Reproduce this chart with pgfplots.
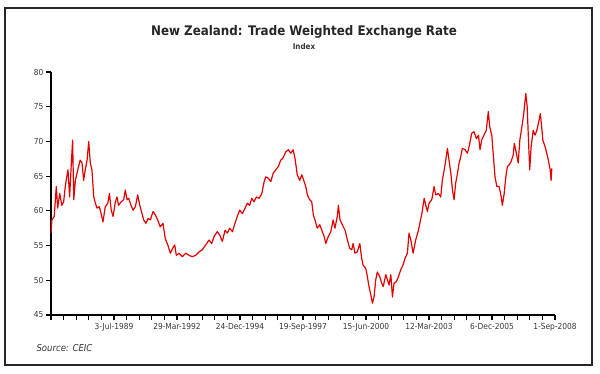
\documentclass[border=0pt]{standalone}
\usepackage{pgfplots}
\pgfplotsset{compat=1.18}
\usepackage{fontspec}
\setmainfont{DejaVu Sans}
\newfontfamily\condfont{DejaVu Sans Condensed}
\definecolor{linered}{RGB}{228,0,0}
\definecolor{txtgray}{RGB}{55,55,55}
\begin{document}
\begin{tikzpicture}[x=1bp,y=1bp]
\path[use as bounding box] (0,0) rectangle (600,373);
\draw[line width=1.5bp, color=black!85] (5,8) rectangle (592,365);
\node[font=\condfont\fontsize{13.2bp}{15bp}\selectfont\bfseries, text=black!85] at (304,341) {New Zealand: Trade Weighted Exchange Rate};
\node[font=\condfont\fontsize{8bp}{9bp}\selectfont\bfseries, text=txtgray] at (304,326) {Index};
\node[font=\condfont\fontsize{9.5bp}{11bp}\selectfont\itshape, text=txtgray, anchor=west] at (33,25) {Source: CEIC};
\begin{axis}[
  at={(51bp,58bp)}, anchor=south west,
  scale only axis, width=504bp, height=243bp,
  xmin=1986.76, xmax=2008.68, ymin=45, ymax=80,
  axis x line*=bottom, axis y line*=left,
  axis line style={line width=1.4bp, black},
  ytick={45,50,...,80},
  xtick={1986.76,1989.50,1992.24,1994.98,1997.72,2000.46,2003.20,2005.94,2008.68},
  xticklabels={,3-Jul-1989,29-Mar-1992,24-Dec-1994,19-Sep-1997,15-Jun-2000,12-Mar-2003,6-Dec-2005,1-Sep-2008},
  minor x tick num=4,
  tick align=outside,
  major tick length=5bp, minor tick length=5bp,
  every tick/.style={black, line width=1.1bp},
  /pgf/number format/assume math mode=true,
  ticklabel style={font=\condfont\fontsize{8.3bp}{9bp}\selectfont, text=txtgray},
  xticklabel style={yshift=0bp},
  yticklabel style={xshift=1bp},
  clip=false,
]
\addplot[color=linered, line width=1.2bp, line join=round] coordinates {
(1986.76,56.8)(1986.80,58.7)(1986.90,59.2)(1986.99,63.5)(1987.05,60.4)(1987.14,62.5)(1987.23,60.8)(1987.31,61.3)
(1987.38,63.5)(1987.46,65.2)(1987.50,65.9)(1987.57,62.0)(1987.63,65.9)(1987.70,70.2)(1987.75,61.6)(1987.82,64.4)
(1987.89,65.4)(1987.96,66.4)(1988.03,67.3)(1988.11,66.9)(1988.18,64.4)(1988.25,65.9)(1988.33,67.3)(1988.40,70.0)
(1988.47,66.9)(1988.54,65.9)(1988.62,62.0)(1988.69,61.1)(1988.76,60.4)(1988.86,60.6)(1988.94,59.6)(1989.02,58.4)
(1989.12,60.6)(1989.23,61.1)(1989.30,62.5)(1989.38,60.1)(1989.46,59.2)(1989.56,61.3)(1989.63,62.0)(1989.70,60.8)
(1989.81,61.3)(1989.92,61.6)(1989.99,63.0)(1990.07,61.6)(1990.14,61.8)(1990.24,60.8)(1990.33,60.1)(1990.43,60.6)
(1990.53,62.3)(1990.62,60.8)(1990.72,59.6)(1990.79,58.7)(1990.89,58.2)(1990.98,58.9)(1991.08,58.7)(1991.20,59.9)
(1991.30,59.4)(1991.40,58.7)(1991.51,57.7)(1991.63,58.2)(1991.73,56.0)(1991.84,55.1)(1991.95,53.9)(1992.05,54.6)
(1992.14,55.1)(1992.21,53.6)(1992.33,53.9)(1992.47,53.4)(1992.62,53.9)(1992.76,53.6)(1992.91,53.4)(1993.05,53.6)
(1993.20,54.1)(1993.34,54.4)(1993.49,55.1)(1993.63,55.8)(1993.75,55.3)(1993.85,56.3)(1993.99,57.0)(1994.10,56.5)
(1994.21,55.6)(1994.33,57.2)(1994.43,56.8)(1994.53,57.5)(1994.65,57.0)(1994.76,58.2)(1994.86,59.2)(1994.97,60.1)
(1995.08,59.6)(1995.20,60.4)(1995.30,61.1)(1995.40,60.8)(1995.49,61.8)(1995.59,61.3)(1995.69,62.0)(1995.81,61.8)
(1995.93,62.5)(1996.03,64.2)(1996.10,64.9)(1996.21,64.7)(1996.32,64.2)(1996.42,65.4)(1996.53,65.9)(1996.65,66.4)
(1996.75,67.3)(1996.85,67.6)(1996.97,68.5)(1997.08,68.8)(1997.19,68.3)(1997.29,68.8)(1997.37,67.6)(1997.47,65.2)
(1997.58,64.4)(1997.67,65.2)(1997.77,64.2)(1997.84,63.5)(1997.91,62.3)(1998.01,61.6)(1998.10,61.3)(1998.17,59.4)
(1998.24,58.7)(1998.34,57.5)(1998.45,58.0)(1998.56,57.0)(1998.64,56.3)(1998.71,55.3)(1998.82,56.3)(1998.93,57.0)
(1999.03,58.7)(1999.11,57.5)(1999.21,59.2)(1999.26,60.8)(1999.33,58.7)(1999.43,58.0)(1999.55,57.2)(1999.65,55.8)
(1999.75,54.6)(1999.84,54.4)(1999.90,55.3)(1999.98,53.9)(2000.08,54.1)(2000.19,55.3)(2000.27,53.2)(2000.33,52.2)
(2000.45,51.7)(2000.52,50.5)(2000.59,49.1)(2000.67,47.9)(2000.74,46.7)(2000.81,47.6)(2000.88,50.0)(2000.95,51.2)
(2001.06,50.5)(2001.14,49.6)(2001.21,49.1)(2001.32,50.8)(2001.40,50.0)(2001.46,49.3)(2001.54,50.8)(2001.61,47.6)
(2001.68,49.6)(2001.78,49.8)(2001.87,50.5)(2001.97,51.5)(2002.07,52.2)(2002.16,53.2)(2002.26,53.9)(2002.33,56.8)
(2002.41,55.8)(2002.51,53.9)(2002.62,55.8)(2002.74,57.2)(2002.89,59.6)(2002.99,61.8)(2003.06,60.8)(2003.13,59.9)
(2003.20,61.1)(2003.32,61.6)(2003.42,63.5)(2003.49,62.3)(2003.61,62.5)(2003.71,62.0)(2003.78,64.4)(2003.86,65.9)
(2003.93,67.3)(2004.00,69.0)(2004.07,67.3)(2004.15,65.4)(2004.22,63.0)(2004.29,61.6)(2004.36,64.0)(2004.44,65.4)
(2004.51,66.9)(2004.58,67.8)(2004.65,69.0)(2004.77,68.8)(2004.87,68.3)(2004.94,69.2)(2005.06,71.2)(2005.16,71.4)
(2005.26,70.4)(2005.35,70.9)(2005.42,68.8)(2005.49,70.2)(2005.59,70.9)(2005.69,71.6)(2005.78,74.3)(2005.84,72.1)
(2005.93,70.9)(2005.99,68.3)(2006.07,64.9)(2006.15,63.5)(2006.25,63.5)(2006.34,62.0)(2006.39,60.8)(2006.47,62.5)
(2006.54,64.9)(2006.61,66.4)(2006.68,66.6)(2006.77,67.1)(2006.86,68.0)(2006.91,69.7)(2007.00,68.3)(2007.08,66.9)
(2007.15,70.2)(2007.24,72.1)(2007.32,74.0)(2007.41,76.9)(2007.47,75.0)(2007.52,70.7)(2007.58,65.9)(2007.64,69.2)
(2007.73,71.6)(2007.81,70.9)(2007.89,71.6)(2007.99,73.1)(2008.04,74.0)(2008.10,72.1)(2008.15,70.2)(2008.25,69.2)
(2008.32,68.3)(2008.39,67.3)(2008.47,65.9)(2008.51,64.4)(2008.54,66.1)
};
\end{axis}
\end{tikzpicture}
\end{document}
